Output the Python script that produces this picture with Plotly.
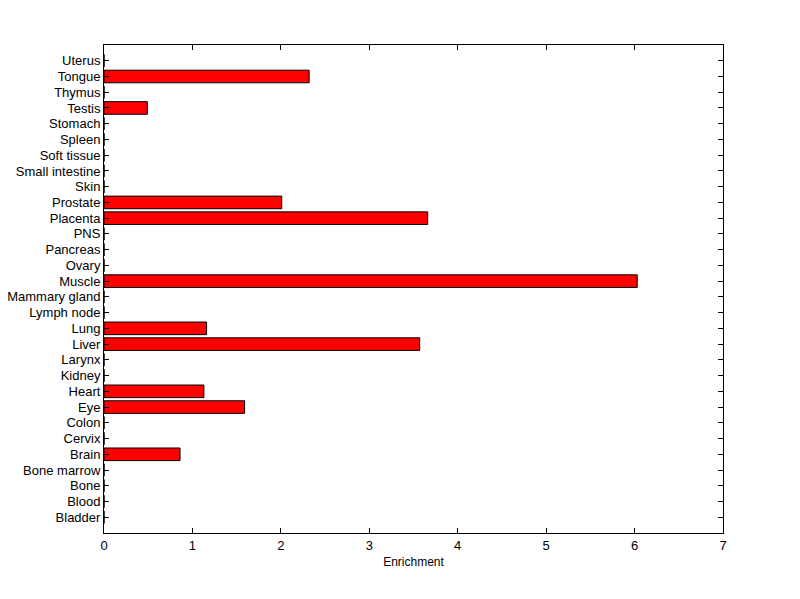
import plotly.graph_objects as go

tissues = ["Bladder", "Blood", "Bone", "Bone marrow", "Brain", "Cervix", "Colon", "Eye",
           "Heart", "Kidney", "Larynx", "Liver", "Lung", "Lymph node", "Mammary gland",
           "Muscle", "Ovary", "Pancreas", "PNS", "Placenta", "Prostate", "Skin",
           "Small intestine", "Soft tissue", "Spleen", "Stomach", "Testis", "Thymus",
           "Tongue", "Uterus"]
enrichment = [0, 0, 0, 0, 0.86, 0, 0, 1.59,
              1.13, 0, 0, 3.57, 1.16, 0, 0,
              6.03, 0, 0, 0, 3.66, 2.01, 0,
              0, 0, 0, 0, 0.49, 0,
              2.32, 0]
xticks = [0, 1, 2, 3, 4, 5, 6, 7]

positions = list(range(1, len(tissues) + 1))

fig = go.Figure(go.Bar(
    x=enrichment, y=positions, orientation="h", width=0.8,
    marker=dict(color="#ff0000", line=dict(color="black", width=1)),
))

font = dict(family="Liberation Sans, Arial, sans-serif", size=13, color="black")
fig.update_layout(
    width=800, height=599,
    margin=dict(l=96, r=85, t=37, b=74),
    paper_bgcolor="white", plot_bgcolor="white",
    font=font, showlegend=False,
    xaxis=dict(range=[0, 7], tickvals=xticks, ticks="inside", ticklen=5,
               showline=True, linecolor="black", linewidth=1, mirror="ticks",
               tickcolor="black", showgrid=False, zeroline=False, automargin=False,
               title=dict(text="Enrichment", standoff=6, font=dict(family=font["family"], size=12, color="black"))),
    yaxis=dict(range=[0, 31], tickvals=positions, ticktext=tissues, ticks="inside",
               ticklen=5, showline=True, linecolor="black", linewidth=1, automargin=False,
               mirror="ticks", tickcolor="black", showgrid=False, zeroline=False),
)

fig.write_html("out.html")
